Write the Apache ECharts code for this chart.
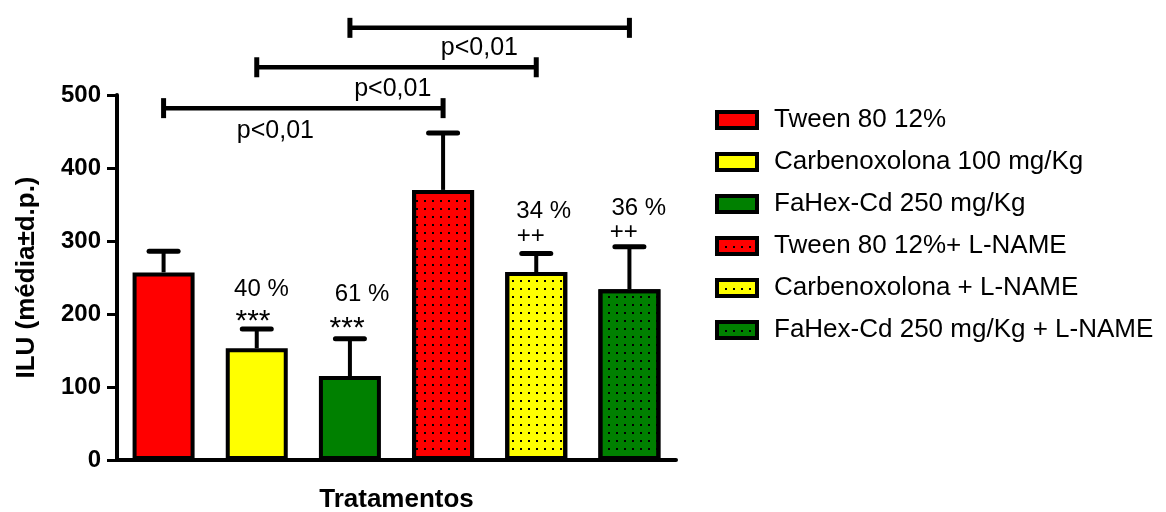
<!DOCTYPE html>
<html>
<head>
<meta charset="utf-8">
<script src="https://cdn.jsdelivr.net/npm/echarts@6/dist/echarts.min.js"></script>
<style>
html,body{margin:0;padding:0;background:#fff;}
#chart{width:1166px;height:512px;}
</style>
</head>
<body>
<div id="chart"></div>
<script>
// ---- data ----
const categories = ['Tween 80 12%', 'Carbenoxolona 100 mg/Kg', 'FaHex-Cd 250 mg/Kg', 'Tween 80 12%+ L-NAME', 'Carbenoxolona + L-NAME', 'FaHex-Cd 250 mg/Kg + L-NAME'];
const means = [257, 153, 115, 370, 257.5, 234];
const sds = [29, 26.5, 51, 78, 25.5, 58];
const colors = ['#ff0000', '#ffff00', '#008000', '#ff0000', '#ffff00', '#008000'];
const dotted = [false, false, false, true, true, true];
const yMin = 0, yMax = 500, yStep = 100;
const yAxisName = 'ILU (média±d.p.)';
const xAxisName = 'Tratamentos';
// significance brackets: [from category, y, to category]
const brackets = [[0, 482, 3], [1, 538, 4], [2, 592, 5]];
// bracket labels: [category, y, offset in bands]
const bracketLabelPos = [[1, 451, 0.2], [2, 508, 0.46], [3, 564, 0.39]];
const bracketLabelText = ['p<0,01', 'p<0,01', 'p<0,01'];
// notes above bars: [category, y, offset in bands]
const notePos = [[1, 234, 0.05], [1, 189, -0.04], [2, 227, 0.13], [2, 179.5, -0.03], [4, 340, 0.08], [4, 307, -0.06], [5, 344.5, 0.1], [5, 312, -0.06]];
const noteText = ['40 %', '***', '61 %', '***', '34 %', '++', '36 %', '++'];

const FONT = '"Liberation Sans", Arial, sans-serif';

const dotDecal = {
  symbol: 'rect', symbolSize: 1, color: '#000',
  dashArrayX: [2, 5.7], dashArrayY: [2, 5.3], rotation: 0
};

const barSeries = categories.map((name, i) => ({
  name: name,
  type: 'bar',
  barWidth: 62,
  barGap: '-100%',
  data: categories.map((_, j) => j === i ? means[i] : '-'),
  itemStyle: Object.assign({ color: colors[i], borderColor: '#000', borderWidth: 4 },
    dotted[i] ? { decal: dotDecal } : {}),
  z: 2
}));

const errorSeries = {
  type: 'custom',
  clip: false,
  z: 3,
  silent: true,
  data: means.map((m, i) => [i, m, m + sds[i]]),
  encode: { x: 0, y: 1 },
  renderItem: function (params, api) {
    const i = api.value(0);
    const p0 = api.coord([i, api.value(1)]);
    const p1 = api.coord([i, api.value(2)]);
    return {
      type: 'group',
      children: [
        { type: 'line', shape: { x1: p0[0], y1: p0[1], x2: p1[0], y2: p1[1] }, style: { stroke: '#000', lineWidth: 4 } },
        { type: 'line', shape: { x1: p1[0] - 14.5, y1: p1[1], x2: p1[0] + 14.5, y2: p1[1] }, style: { stroke: '#000', lineWidth: 5, lineCap: 'round' } }
      ]
    };
  }
};

const bracketSeries = {
  type: 'custom',
  clip: false,
  z: 3,
  silent: true,
  data: brackets,
  encode: { x: 0, y: 1 },
  renderItem: function (params, api) {
    const a = api.coord([api.value(0), api.value(1)]);
    const b = api.coord([api.value(2), api.value(1)]);
    return {
      type: 'group',
      children: [
        { type: 'line', shape: { x1: a[0], y1: a[1], x2: b[0], y2: b[1] }, style: { stroke: '#000', lineWidth: 4.5 } },
        { type: 'line', shape: { x1: a[0], y1: a[1] - 10, x2: a[0], y2: a[1] + 10 }, style: { stroke: '#000', lineWidth: 5 } },
        { type: 'line', shape: { x1: b[0], y1: b[1] - 10, x2: b[0], y2: b[1] + 10 }, style: { stroke: '#000', lineWidth: 5 } }
      ]
    };
  }
};

function textSeries(pos, texts, size) {
  return {
    type: 'custom',
    clip: false,
    z: 4,
    silent: true,
    data: pos,
    encode: { x: 0, y: 1 },
    renderItem: function (params, api) {
      const p = api.coord([api.value(0), api.value(1)]);
      const band = api.size([1, 0])[0];
      const t = texts[params.dataIndex];
      const isStar = t.indexOf('*') >= 0;
      return {
        type: 'text',
        x: p[0] + api.value(2) * band,
        y: p[1],
        style: {
          text: t, fill: '#000', fontSize: isStar ? 30 : size, fontFamily: FONT,
          align: 'center', verticalAlign: 'middle'
        }
      };
    }
  };
}

const chart = echarts.init(document.getElementById('chart'), null, { renderer: 'canvas' });
chart.setOption({
  backgroundColor: '#fff',
  animation: false,
  textStyle: { fontFamily: FONT },
  grid: { left: 117, right: 490, top: 95, bottom: 52, containLabel: false, outerBoundsMode: 'none' },
  legend: {
    orient: 'vertical',
    left: 710,
    top: 102,
    icon: 'rect',
    itemWidth: 40,
    itemHeight: 16,
    itemGap: 16,
    selectedMode: false,
    itemStyle: { borderColor: '#000', borderWidth: 4 },
    textStyle: { fontSize: 26, color: '#000', fontFamily: FONT, padding: [0, 0, 0, 12] },
    data: categories
  },
  xAxis: {
    type: 'category',
    data: categories,
    name: xAxisName,
    nameLocation: 'middle',
    nameGap: 27,
    nameTextStyle: { fontSize: 26, fontWeight: 'bold', color: '#000', fontFamily: FONT },
    axisLine: { lineStyle: { color: '#000', width: 4 } },
    axisTick: { alignWithLabel: true, length: 10, lineStyle: { color: '#000', width: 3 } },
    axisLabel: { show: false },
    splitLine: { show: false }
  },
  yAxis: {
    type: 'value',
    min: yMin, max: yMax, interval: yStep,
    name: yAxisName,
    nameLocation: 'middle',
    nameGap: 77,
    nameTextStyle: { fontSize: 26, fontWeight: 'bold', color: '#000', fontFamily: FONT },
    axisLine: { show: true, lineStyle: { color: '#000', width: 4 } },
    axisTick: { show: true, length: 10, lineStyle: { color: '#000', width: 3 } },
    axisLabel: { fontSize: 24, fontWeight: 'bold', color: '#000', margin: 16, fontFamily: FONT },
    splitLine: { show: false }
  },
  series: barSeries.concat([
    errorSeries,
    bracketSeries,
    textSeries(bracketLabelPos, bracketLabelText, 25),
    textSeries(notePos, noteText, 24)
  ])
});
</script>
</body>
</html>
